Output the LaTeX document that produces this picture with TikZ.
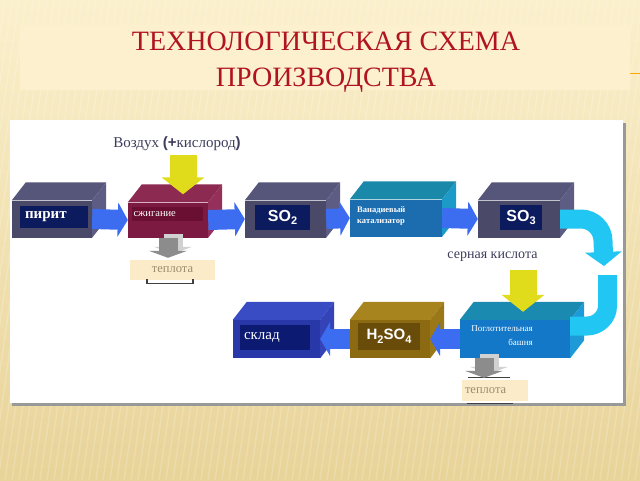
\documentclass[tikz,border=0pt]{standalone}
\usepackage{fontspec}
\setmainfont{Liberation Serif}
\setsansfont{Liberation Sans}
\usetikzlibrary{arrows.meta,calc}

\definecolor{bgtop}{HTML}{FBF0CC}
\definecolor{bgbot}{HTML}{E8D398}
\definecolor{titlebg}{HTML}{FCF0CF}
\definecolor{titlered}{HTML}{B0141E}
\definecolor{labelgrey}{HTML}{3C3C5C}
\definecolor{slatefront}{HTML}{4A4A68}
\definecolor{slatetop}{HTML}{56567A}
\definecolor{slateside}{HTML}{5C5C84}
\definecolor{navy}{HTML}{0C1A5E}
\definecolor{burnfront}{HTML}{7C1A42}
\definecolor{burntop}{HTML}{8C2A52}
\definecolor{burnside}{HTML}{94305A}
\definecolor{burnband}{HTML}{6A0E32}
\definecolor{catfront}{HTML}{1C6CB0}
\definecolor{cattop}{HTML}{1A88A8}
\definecolor{catside}{HTML}{1C9AC8}
\definecolor{towerfront}{HTML}{1478C8}
\definecolor{towertop}{HTML}{1A8AB0}
\definecolor{towerside}{HTML}{1E9AD8}
\definecolor{acidfront}{HTML}{8C6A12}
\definecolor{acidtop}{HTML}{A8841E}
\definecolor{acidside}{HTML}{9A7818}
\definecolor{acidinner}{HTML}{6A4C0A}
\definecolor{storefront}{HTML}{2838A8}
\definecolor{storetop}{HTML}{3A4CC4}
\definecolor{storeside}{HTML}{3444B8}
\definecolor{storeinner}{HTML}{0C1A72}
\definecolor{flowblue}{HTML}{3C6CF0}
\definecolor{cyanflow}{HTML}{22C6F2}
\definecolor{airyellow}{HTML}{E0DC1C}
\definecolor{heatgrey}{HTML}{8C8C8C}
\definecolor{heatbg}{HTML}{FCEBC8}
\definecolor{heattext}{HTML}{9C8C70}

\def\depthx{14}
\def\depthy{18}

% top and right faces of a box drawn behind a front node
\newcommand\cubesides[3]{%
  \fill[fill=#2] (#1.north west) -- ++(\depthx,-\depthy) -- ([shift={(\depthx,-\depthy)}]#1.north east) -- (#1.north east) -- cycle;
  \fill[fill=#3] (#1.north east) -- ++(\depthx,-\depthy) -- ([shift={(\depthx,-\depthy)}]#1.south east) -- (#1.south east) -- cycle;
}
\newcommand\lowidx[1]{\raisebox{-0.45ex}{\fontsize{11}{12}\selectfont#1}}

\begin{document}
\begin{tikzpicture}[x=1pt,y=-1pt]
    \tikzstyle{cube}=[rectangle,inner sep=0pt,minimum height=37pt]
    \tikzstyle{namebox}=[rectangle,inner sep=0pt,text=white]
    \tikzstyle{heatbox}=[rectangle,fill=heatbg,text=heattext,inner sep=0pt,font=\fontsize{12.5}{14}\selectfont]
    \tikzstyle{flow}=[draw=flowblue,line width=20pt,-{Triangle[length=10pt,width=34pt]}]
    \tikzstyle{acidflow}=[draw=cyanflow,line width=19pt]
    \tikzstyle{airflow}=[draw=airyellow,line width=27pt,-{Triangle[length=17pt,width=42pt]},shorten >=8pt]
    \tikzstyle{heatflow}=[draw=heatgrey,line width=19pt,-{Triangle[length=7pt,width=38pt]},shorten >=2pt]
    \tikzstyle{bracket}=[draw=black!75,line width=1.2pt]

    \useasboundingbox (0,0) rectangle (640,480);

    % Background, title and white panel
    \shade[top color=bgtop,bottom color=bgbot] (0,0) rectangle (640,480);
    \foreach \i in {-100,-93,...,640}
        \draw[white,opacity=0.18,line width=1.5pt] (\i,480) -- (\i+70,0);
    \fill[titlebg] (20,25) rectangle (630,90);
    \draw[orange!70!yellow,line width=1pt] (630,73) -- (640,73);
    \node[font=\fontsize{28}{36}\selectfont,text=titlered,align=center] (title) at (326,62)
        {ТЕХНОЛОГИЧЕСКАЯ СХЕМА\\ПРОИЗВОДСТВА};
    \fill[black!40] (12,123) rectangle (626,406);
    \fill[white] (10,120) rectangle (623,403);

    % Draw the front faces of the stages
    \node[cube,fill=slatefront,minimum width=80pt] (pirit) at (52,219) {};
    \node[cube,fill=burnfront,minimum width=80pt,minimum height=35pt] (burn) at (168,220) {};
    \node[cube,fill=slatefront,minimum width=81pt] (so2) at (285.5,219) {};
    \node[cube,fill=catfront,minimum width=92pt] (cat) at (396,218) {};
    \node[cube,fill=slatefront,minimum width=82pt] (so3) at (519,219) {};
    \node[cube,fill=towerfront,minimum width=110pt,minimum height=38pt] (tower) at (515,339) {};
    \node[cube,fill=acidfront,minimum width=80pt,minimum height=38pt] (acid) at (390,339) {};
    \node[cube,fill=storefront,minimum width=87pt,minimum height=38pt] (store) at (276.5,339) {};

    % Top and side faces
    \foreach \name/\topc/\sidec in {pirit/slatetop/slateside,burn/burntop/burnside,
        so2/slatetop/slateside,cat/cattop/catside,so3/slatetop/slateside,
        tower/towertop/towerside,acid/acidtop/acidside,store/storetop/storeside}
        {\cubesides{\name}{\topc}{\sidec}}

    % Labels on the stages
    \node[namebox,fill=navy,minimum width=68pt,minimum height=22pt,text width=58pt,align=left,
        font=\fontsize{15}{17}\selectfont\bfseries] (piritname) at (54,217) {пирит};
    \node[namebox,fill=burnband,minimum width=71pt,minimum height=14pt,text width=68pt,align=left,
        font=\fontsize{10.5}{12}\selectfont] (burnname) at (167.5,214) {сжигание};
    \node[namebox,fill=navy,minimum width=55pt,minimum height=25pt,
        font=\sffamily\bfseries\fontsize{16}{18}\selectfont] (so2name) at (282.5,217.5) {SO\lowidx{2}};
    \node[text=white,anchor=west,align=left,inner sep=0pt,
        font=\fontsize{8.5}{11}\selectfont\bfseries] (catname) at (357,216) {Ванадиевый\\катализатор};
    \node[namebox,fill=navy,minimum width=42pt,minimum height=25pt,
        font=\sffamily\bfseries\fontsize{16}{18}\selectfont] (so3name) at (521,217.5) {SO\lowidx{3}};
    \node[text=white,anchor=east,align=right,inner sep=0pt,
        font=\fontsize{9}{14}\selectfont] (towername) at (533,336) {Поглотительная\\башня};
    \node[namebox,fill=acidinner,minimum width=62pt,minimum height=27pt,
        font=\sffamily\bfseries\fontsize{15}{17}\selectfont] (acidname) at (389,336.5) {H\lowidx{2}SO\lowidx{4}};
    \node[namebox,fill=storeinner,minimum width=70pt,minimum height=25pt,text width=62pt,align=left,
        font=\fontsize{15}{17}\selectfont] (storename) at (275,337.5) {склад};

    % Inputs and heat
    \node[text=labelgrey,font=\fontsize{15}{17}\selectfont] (air) at (177,144)
        {Воздух \textsf{\textbf{(+}}кислород\textsf{\textbf{)}}};
    \node[text=labelgrey,font=\fontsize{14}{16}\selectfont] (acidlabel) at (492.5,257) {серная кислота};
    \node[heatbox,minimum width=85pt,minimum height=20pt] (heat1) at (172.5,270) {теплота};
    \node[heatbox,minimum width=66pt,minimum height=21pt,text width=60pt,align=left] (heat2) at (495,390.5) {теплота};
    \draw[bracket] ($(heat1.south)+(-25.5,-1)$) -- ++(0,4) -- ++(46,0) -- ++(0,-4);
    \draw[bracket] ($(heat2.north)+(-27,-2)$) -- ++(42,0);
    \draw[bracket] ($(heat2.south)+(-28,2)$) -- ++(46,0);

    % Connect the stages
    \foreach \source/\dest in {pirit/burn,burn/so2,so2/cat,cat/so3}
        \draw[flow] (\source.east) -- (\dest.west);
    \foreach \source/\dest in {tower/acid,acid/store}
        \draw[flow] (\source.west) -- (\dest.east);

    \coordinate (acidturn) at (604,266);
    \coordinate (cyantop) at (607.5,275);
    \draw[acidflow,-{Triangle[length=14pt,width=36pt]}] (so3.east) -- (581,219)
        .. controls (593,219) and (603,229) .. (603,241) -- (acidturn);
    \draw[acidflow] (cyantop) -- (607.5,306) .. controls (607.5,317) and (598,326) .. (587,326)
        -- ([yshift=13pt]tower.east);

    \coordinate (airtop) at (183,155);
    \coordinate (sulftop) at (523,270);
    \draw[airflow] (airtop) -- (airtop |- burn.north);
    \draw[airflow] (sulftop) -- (sulftop |- tower.north);

    \coordinate (towerout) at ([xshift=-31pt]tower.south);
    \draw[heatflow,draw=black!18,transform canvas={xshift=5pt,yshift=4pt}] (burn.south) -- (burn.south |- heat1.north);
    \draw[heatflow] (burn.south) -- (burn.south |- heat1.north);
    \draw[heatflow,draw=black!18,transform canvas={xshift=5pt,yshift=4pt}] (towerout) -- (towerout |- heat2.north);
    \draw[heatflow] (towerout) -- (towerout |- heat2.north);
\end{tikzpicture}
\end{document}
